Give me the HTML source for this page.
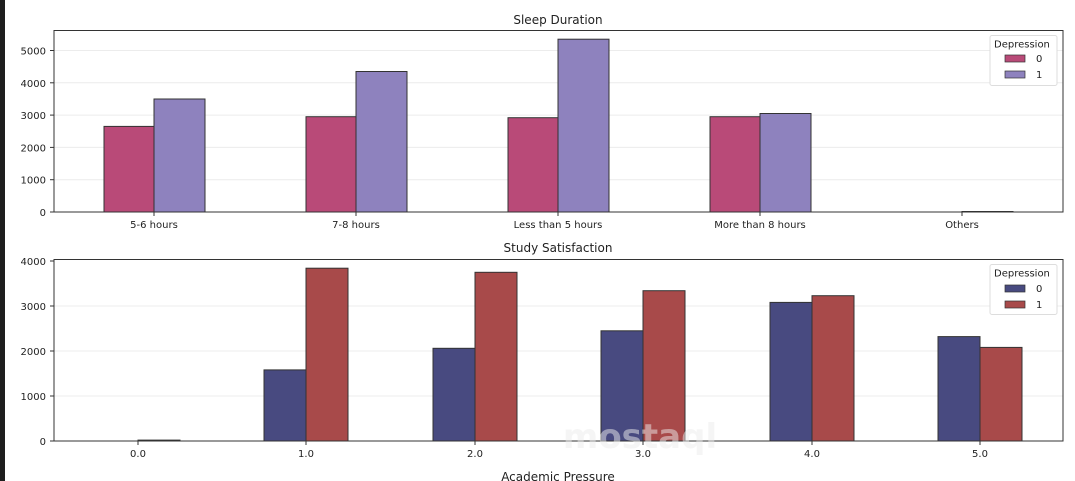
<!DOCTYPE html>
<html><head><meta charset="utf-8"><style>body{margin:0;background:#fff}svg{display:block}text{font-family:"DejaVu Sans","Liberation Sans",sans-serif;fill:#222}</style></head>
<body>
<svg width="1075" height="481" viewBox="0 0 1075 481" xmlns="http://www.w3.org/2000/svg">
<rect x="0" y="0" width="5" height="481" fill="#1e1e1e"/>
<g stroke="#ececec" stroke-width="1">
<line x1="54" x2="1063" y1="179.7" y2="179.7"/><line x1="54" x2="1063" y1="147.4" y2="147.4"/><line x1="54" x2="1063" y1="115.1" y2="115.1"/><line x1="54" x2="1063" y1="82.8" y2="82.8"/><line x1="54" x2="1063" y1="50.5" y2="50.5"/>
<line x1="54" x2="1063" y1="396" y2="396"/><line x1="54" x2="1063" y1="351" y2="351"/><line x1="54" x2="1063" y1="306" y2="306"/>
</g>
<g stroke="#333" stroke-width="1">
<rect x="104" y="126.4" width="50" height="85.6" fill="#b94a78"/><rect x="154" y="99" width="51" height="113" fill="#8e82be"/>
<rect x="306" y="116.7" width="50" height="95.3" fill="#b94a78"/><rect x="356" y="71.5" width="51" height="140.5" fill="#8e82be"/>
<rect x="508" y="117.7" width="50" height="94.3" fill="#b94a78"/><rect x="558" y="39.2" width="51" height="172.8" fill="#8e82be"/>
<rect x="710" y="116.7" width="50" height="95.3" fill="#b94a78"/><rect x="760" y="113.5" width="51" height="98.5" fill="#8e82be"/>
<rect x="962" y="211.5" width="51" height="0.5" fill="#8e82be"/>
<rect x="138" y="440.1" width="42" height="0.9" fill="#a84a4a"/>
<rect x="264" y="369.9" width="42" height="71.1" fill="#484a80"/><rect x="306" y="268.2" width="42" height="172.8" fill="#a84a4a"/>
<rect x="433" y="348.3" width="42" height="92.7" fill="#484a80"/><rect x="475" y="272.3" width="42" height="168.7" fill="#a84a4a"/>
<rect x="601" y="330.8" width="42" height="110.2" fill="#484a80"/><rect x="643" y="290.7" width="42" height="150.3" fill="#a84a4a"/>
<rect x="770" y="302.4" width="42" height="138.6" fill="#484a80"/><rect x="812" y="295.7" width="42" height="145.3" fill="#a84a4a"/>
<rect x="938" y="336.6" width="42" height="104.4" fill="#484a80"/><rect x="980" y="347.4" width="42" height="93.6" fill="#a84a4a"/>
</g>
<g fill="none" stroke="#333" stroke-width="1">
<rect x="54" y="30.5" width="1009" height="181.5"/>
<rect x="54" y="259.5" width="1009" height="181.5"/>
</g>
<g stroke="#333">
<line x1="50" x2="54" y1="212" y2="212"/><line x1="50" x2="54" y1="179.7" y2="179.7"/><line x1="50" x2="54" y1="147.4" y2="147.4"/><line x1="50" x2="54" y1="115.1" y2="115.1"/><line x1="50" x2="54" y1="82.8" y2="82.8"/><line x1="50" x2="54" y1="50.5" y2="50.5"/>
<line x1="154" x2="154" y1="212" y2="216"/><line x1="356" x2="356" y1="212" y2="216"/><line x1="558" x2="558" y1="212" y2="216"/><line x1="760" x2="760" y1="212" y2="216"/><line x1="962" x2="962" y1="212" y2="216"/>
<line x1="50" x2="54" y1="441" y2="441"/><line x1="50" x2="54" y1="396" y2="396"/><line x1="50" x2="54" y1="351" y2="351"/><line x1="50" x2="54" y1="306" y2="306"/><line x1="50" x2="54" y1="261" y2="261"/>
<line x1="138" x2="138" y1="441" y2="445"/><line x1="306" x2="306" y1="441" y2="445"/><line x1="475" x2="475" y1="441" y2="445"/><line x1="643" x2="643" y1="441" y2="445"/><line x1="812" x2="812" y1="441" y2="445"/><line x1="980" x2="980" y1="441" y2="445"/>
</g>
<g font-size="10" text-anchor="end">
<text x="46" y="216">0</text><text x="46" y="183.7">1000</text><text x="46" y="151.4">2000</text><text x="46" y="119.1">3000</text><text x="46" y="86.8">4000</text><text x="46" y="54.5">5000</text>
<text x="46" y="445">0</text><text x="46" y="400">1000</text><text x="46" y="355">2000</text><text x="46" y="310">3000</text><text x="46" y="265">4000</text>
</g>
<g font-size="10" text-anchor="middle">
<text x="154" y="228">5-6 hours</text><text x="356" y="228">7-8 hours</text><text x="558" y="228">Less than 5 hours</text><text x="760" y="228">More than 8 hours</text><text x="962" y="228">Others</text>
<text x="138" y="457">0.0</text><text x="306" y="457">1.0</text><text x="475" y="457">2.0</text><text x="643" y="457">3.0</text><text x="812" y="457">4.0</text><text x="980" y="457">5.0</text>
</g>
<g font-size="12" text-anchor="middle">
<text x="558" y="24">Sleep Duration</text>
<text x="558" y="252">Study Satisfaction</text>
<text x="558" y="481">Academic Pressure</text>
</g>
<text x="640" y="448" font-size="34" font-weight="bold" fill="#e6e6e6" style="fill:#ececec" text-anchor="middle" opacity="0.5">mostaql</text>
<g font-size="10">
<rect x="990" y="35.5" width="67" height="50" rx="2" fill="#fff" stroke="#ddd"/>
<text x="994" y="47.5">Depression</text>
<rect x="1005" y="55" width="20" height="7" fill="#b94a78" stroke="#333" stroke-width="0.7"/><text x="1036" y="62">0</text>
<rect x="1005" y="71" width="20" height="7" fill="#8e82be" stroke="#333" stroke-width="0.7"/><text x="1036" y="78">1</text>
<rect x="990" y="264.5" width="67" height="50" rx="2" fill="#fff" stroke="#ddd"/>
<text x="994" y="276.5">Depression</text>
<rect x="1005" y="285" width="20" height="7" fill="#484a80" stroke="#333" stroke-width="0.7"/><text x="1036" y="292">0</text>
<rect x="1005" y="301" width="20" height="7" fill="#a84a4a" stroke="#333" stroke-width="0.7"/><text x="1036" y="308">1</text>
</g>
</svg>
</body></html>
